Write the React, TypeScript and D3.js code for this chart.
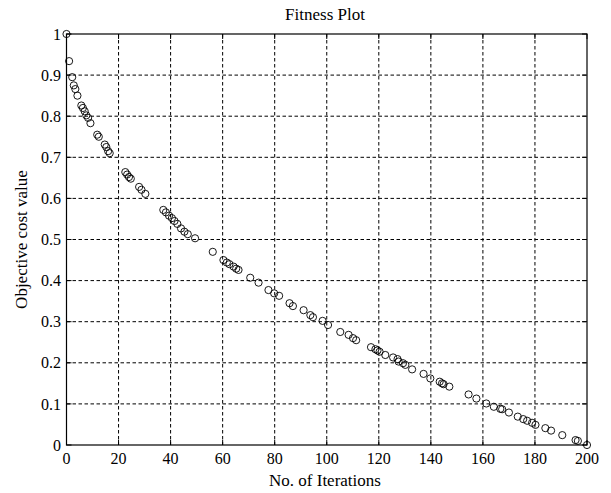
import React from "react";
import * as d3 from "d3";

const iterations = [0, 1, 2.2, 2.8, 3.4, 4.2, 5.7, 6.3, 7, 7.6, 8.3, 9.2, 11.8, 12.4, 14.7, 15.3, 16, 16.6, 22.6, 23.3, 24, 24.7, 27.9, 28.8, 30.3, 37.2, 38.2, 39.4, 40.5, 41.5, 42.6, 44, 45.3, 46.6, 49.4, 56.2, 60.3, 61.6, 62.6, 64.2, 65.2, 66.1, 70.6, 73.8, 77.6, 79.8, 81.7, 85.7, 87, 91.1, 93.7, 94.7, 98.4, 100.5, 105.2, 108.4, 110.1, 111.3, 117, 118.7, 119.5, 120.3, 122.5, 125.5, 127.2, 127.6, 129.3, 130.2, 132.8, 137.2, 139.8, 143.4, 144.3, 144.9, 147.1, 154.5, 157.5, 161.3, 164.2, 166.7, 167.4, 170, 173.4, 175.5, 177, 178.9, 180.2, 184, 186.2, 190.5, 195.6, 196.5, 200];
const costs = [1.0, 0.934, 0.895, 0.875, 0.866, 0.85, 0.826, 0.82, 0.812, 0.802, 0.796, 0.783, 0.755, 0.75, 0.731, 0.725, 0.715, 0.71, 0.664, 0.658, 0.652, 0.648, 0.628, 0.621, 0.611, 0.572, 0.566, 0.558, 0.552, 0.545, 0.538, 0.527, 0.519, 0.513, 0.503, 0.47, 0.45, 0.444, 0.44, 0.434, 0.429, 0.426, 0.407, 0.395, 0.377, 0.369, 0.363, 0.345, 0.338, 0.328, 0.316, 0.311, 0.302, 0.292, 0.275, 0.268, 0.26, 0.255, 0.238, 0.233, 0.23, 0.227, 0.219, 0.213, 0.209, 0.203, 0.199, 0.195, 0.184, 0.173, 0.162, 0.154, 0.15, 0.148, 0.142, 0.123, 0.113, 0.101, 0.093, 0.088, 0.087, 0.079, 0.069, 0.063, 0.059, 0.054, 0.049, 0.041, 0.035, 0.024, 0.012, 0.01, 0.0];
const xTicks = [0, 20, 40, 60, 80, 100, 120, 140, 160, 180, 200];
const yTicks = [0, 0.1, 0.2, 0.3, 0.4, 0.5, 0.6, 0.7, 0.8, 0.9, 1];

const W = 611, H = 493;
const L = 66.5, R = 587, T = 34, B = 445;
const FONT = "'Liberation Serif', 'Times New Roman', serif";

export default function App() {
  const x = d3.scaleLinear().domain([0, 200]).range([L, R]);
  const y = d3.scaleLinear().domain([0, 1]).range([B, T]);
  return (
    <svg width={W} height={H} style={{ position: "absolute", left: 0, top: 0, background: "#fff" }}>
      <rect x={0} y={0} width={W} height={H} fill="#fff" />
      {xTicks.slice(1, -1).map((t) => (
        <line key={"gx" + t} x1={x(t)} x2={x(t)} y1={T} y2={B} stroke="#000" strokeWidth={1} strokeDasharray="3.5,2.5" />
      ))}
      {yTicks.slice(1, -1).map((t) => (
        <line key={"gy" + t} x1={L} x2={R} y1={y(t)} y2={y(t)} stroke="#000" strokeWidth={1} strokeDasharray="3.5,2.5" />
      ))}
      {xTicks.map((t) => (
        <g key={"tx" + t}>
          <line x1={x(t)} x2={x(t)} y1={B} y2={B - 5} stroke="#000" />
          <line x1={x(t)} x2={x(t)} y1={T} y2={T + 5} stroke="#000" />
          <text x={x(t)} y={464} textAnchor="middle" fontFamily={FONT} fontSize={16} fill="#000">{t}</text>
        </g>
      ))}
      {yTicks.map((t) => (
        <g key={"ty" + t}>
          <line x1={L} x2={L + 5} y1={y(t)} y2={y(t)} stroke="#000" />
          <line x1={R} x2={R - 5} y1={y(t)} y2={y(t)} stroke="#000" />
          <text x={61} y={y(t)} dy="0.35em" textAnchor="end" fontFamily={FONT} fontSize={16} fill="#000">{t}</text>
        </g>
      ))}
      <rect x={L} y={T} width={R - L} height={B - T} fill="none" stroke="#000" strokeWidth={1.2} />
      {iterations.map((it, i) => (
        <circle key={i} cx={x(it)} cy={y(costs[i])} r={3.6} fill="none" stroke="#000" strokeWidth={0.9} />
      ))}
      <text x={325} y={20} textAnchor="middle" fontFamily={FONT} fontSize={17} fill="#000">Fitness Plot</text>
      <text x={325} y={486} textAnchor="middle" fontFamily={FONT} fontSize={17} fill="#000">No. of Iterations</text>
      <text transform={`translate(27,${(T + B) / 2}) rotate(-90)`} textAnchor="middle" fontFamily={FONT} fontSize={17} fill="#000">Objective cost value</text>
    </svg>
  );
}
